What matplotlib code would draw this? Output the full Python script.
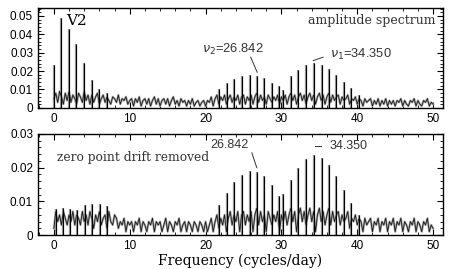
import numpy as np
import matplotlib
matplotlib.use('Agg')
import matplotlib.pyplot as plt
from matplotlib.ticker import MultipleLocator

# noise spectrum, sampled every 0.25 c/d from 0 to 50, in units of 0.001
FREQ_STEP = 0.25
top_noise = [
    5, 8, 3, 9, 6, 2, 8, 4, 9, 3, 7, 5, 2, 8, 6, 3, 9, 4, 7, 2,
    7, 3, 6, 8, 2, 5, 7, 3, 6, 4, 2, 6, 5, 3, 7, 2, 5, 4, 6, 2,
    4, 5, 1, 5, 3, 6, 1, 4, 5, 2, 5, 1, 4, 6, 2, 5, 1, 4, 5, 2,
    5, 1, 4, 6, 2, 4, 1, 5, 3, 4, 1, 4, 2, 5, 1, 3, 4, 1, 3, 4,
    1, 4, 3, 6, 1, 5, 7, 2, 6, 4, 7, 2, 5, 7, 3, 6, 4, 7, 2, 6,
    7, 2, 6, 4, 7, 2, 6, 8, 3, 7, 4, 6, 2, 7, 5, 3, 6, 4, 7, 2,
    6, 4, 7, 2, 6, 8, 4, 7, 2, 6, 8, 4, 7, 2, 6, 8, 4, 7, 2, 6,
    8, 4, 7, 2, 6, 8, 3, 7, 4, 6, 7, 2, 6, 4, 5, 7, 2, 5, 4, 6,
    2, 5, 4, 1, 5, 3, 4, 5, 1, 4, 2, 5, 1, 4, 2, 5, 1, 4, 2, 4,
    1, 4, 3, 5, 1, 4, 2, 1, 4, 3, 5, 1, 4, 2, 1, 4, 3, 5, 1, 3,
    2,
]
bottom_noise = [
    2, 7, 4, 6, 3, 7, 5, 3, 6, 4, 7, 3, 6, 5, 3, 7, 4, 6, 3, 7,
    5, 2, 6, 4, 7, 3, 5, 6, 2, 7, 4, 3, 6, 5, 2, 4, 3, 5, 1, 4,
    3, 4, 1, 4, 3, 5, 1, 4, 3, 1, 4, 3, 5, 1, 4, 3, 4, 1, 3, 5,
    1, 4, 3, 1, 4, 3, 5, 1, 3, 4, 1, 4, 3, 1, 4, 3, 1, 4, 3, 1,
    4, 1, 3, 5, 1, 4, 6, 2, 5, 3, 6, 1, 5, 7, 3, 6, 4, 7, 1, 6,
    7, 3, 6, 4, 7, 1, 6, 8, 3, 7, 4, 6, 1, 7, 5, 3, 6, 4, 7, 1,
    6, 4, 7, 3, 6, 8, 4, 7, 1, 6, 8, 4, 7, 3, 6, 8, 4, 7, 1, 6,
    8, 4, 7, 3, 6, 8, 3, 7, 4, 6, 7, 3, 6, 4, 5, 7, 2, 5, 4, 6,
    3, 5, 4, 1, 5, 3, 4, 5, 1, 4, 3, 5, 1, 4, 3, 5, 1, 4, 3, 5,
    1, 4, 3, 5, 1, 4, 3, 1, 4, 3, 5, 1, 4, 3, 1, 4, 3, 5, 1, 3,
    2,
]

# prominent peaks (frequency c/d, amplitude)
top_peak_f = [0.0, 1.0, 1.94, 2.95, 3.96, 5.0, 6.0, 7.0,
              21.8, 22.8, 23.8, 24.8, 25.8, 26.84, 27.7, 28.8, 29.7, 30.25,
              31.2, 32.2, 33.2, 34.35, 35.3, 36.3, 37.2, 38.2, 39.2, 40.2]
top_peak_a = [0.0234, 0.0487, 0.043, 0.0346, 0.0246, 0.0152, 0.0105, 0.008,
              0.0103, 0.0134, 0.0156, 0.0174, 0.018, 0.0174, 0.016, 0.0134, 0.012, 0.0098,
              0.0174, 0.0207, 0.0234, 0.0243, 0.0234, 0.021, 0.018, 0.0143, 0.0107, 0.007]
bottom_peak_f = [0.26, 1.2, 2.1, 3.0, 4.1, 5.0, 6.1, 7.0,
                 21.8, 22.8, 23.8, 24.8, 25.8, 26.84, 27.7, 28.8, 29.7, 30.25,
                 31.2, 32.2, 33.2, 34.35, 35.3, 36.3, 37.2, 38.2, 39.2, 40.2]
bottom_peak_a = [0.0077, 0.008, 0.0078, 0.0075, 0.0088, 0.0092, 0.0092, 0.0087,
                 0.009, 0.0125, 0.0157, 0.0179, 0.019, 0.0187, 0.0174, 0.015, 0.0117, 0.0122,
                 0.0164, 0.020, 0.0225, 0.0237, 0.023, 0.0207, 0.0174, 0.0134, 0.0094, 0.006]

SERIF = 'DejaVu Serif'
SANS = 'Liberation Sans'
plt.rcParams['font.family'] = SANS
plt.rcParams['mathtext.fontset'] = 'dejavusans'

fig = plt.figure(figsize=(4.52, 2.69), dpi=100)
ax1 = fig.add_axes([0.084, 0.599, 0.896, 0.371])
ax2 = fig.add_axes([0.084, 0.126, 0.896, 0.376])


def draw_panel(ax, noise, pf, pa, ymax, ystep):
    f = np.arange(len(noise)) * FREQ_STEP
    a = np.array(noise) * 1e-3
    # grey halo under the dark trace, like the smeared print
    ax.plot(f, a, color='0.65', lw=1.6)
    ax.vlines(pf, 0, pa, color='0.6', lw=1.6)
    ax.plot(f, a, color='0.1', lw=0.6)
    ax.vlines(pf, 0, pa, color='black', lw=0.8)
    ax.set_xlim(-2.1, 51.3)
    ax.set_ylim(0, ymax)
    ax.xaxis.set_major_locator(MultipleLocator(10))
    ax.xaxis.set_minor_locator(MultipleLocator(2))
    ax.yaxis.set_major_locator(MultipleLocator(ystep))
    ax.yaxis.set_minor_locator(MultipleLocator(0.002))
    ax.tick_params(which='both', direction='in', top=True, right=True, labelsize=8.5)
    ax.tick_params(which='major', length=4, width=0.8)
    ax.tick_params(which='minor', length=2, width=0.6)
    ax.yaxis.set_major_formatter(plt.FuncFormatter(lambda v, p: '0' if v == 0 else f'{v:g}'))
    for s in ax.spines.values():
        s.set_linewidth(1.0)


draw_panel(ax1, top_noise, top_peak_f, top_peak_a, 0.0543, 0.01)
draw_panel(ax2, bottom_noise, bottom_peak_f, bottom_peak_a, 0.03, 0.01)

# top panel labels
ax1.text(3.0, 0.047, 'V2', family=SERIF, fontsize=11, ha='center', va='center')
ax1.text(50.3, 0.0478, 'amplitude spectrum', family=SERIF, fontsize=9, ha='right', va='center', color='0.2')
ax1.text(23.6, 0.032, r'$\nu_2$=26.842', fontsize=9.3, ha='center', va='center', color='0.2')
ax1.plot([25.95, 26.8], [0.0276, 0.0194], color='0.2', lw=0.7)
ax1.text(36.4, 0.0293, r'$\nu_1$=34.350', fontsize=9.3, ha='left', va='center', color='0.2')
ax1.plot([34.2, 35.5], [0.0257, 0.0276], color='0.2', lw=0.7)

# bottom panel labels
ax2.text(0.4, 0.0229, 'zero point drift removed', family=SERIF, fontsize=8.8, ha='left', va='center', color='0.2')
ax2.text(23.2, 0.0267, '26.842', fontsize=9, ha='center', va='center', color='0.2')
ax2.plot([26.1, 26.75], [0.0244, 0.020], color='0.2', lw=0.7)
ax2.plot([34.4, 35.2], [0.0265, 0.0265], color='0.2', lw=0.7)
ax2.text(36.3, 0.0265, '34.350', fontsize=9, ha='left', va='center', color='0.2')
ax2.set_xlabel('Frequency (cycles/day)', family=SERIF, fontsize=10, labelpad=1)

fig.savefig('out.png', dpi=100)
